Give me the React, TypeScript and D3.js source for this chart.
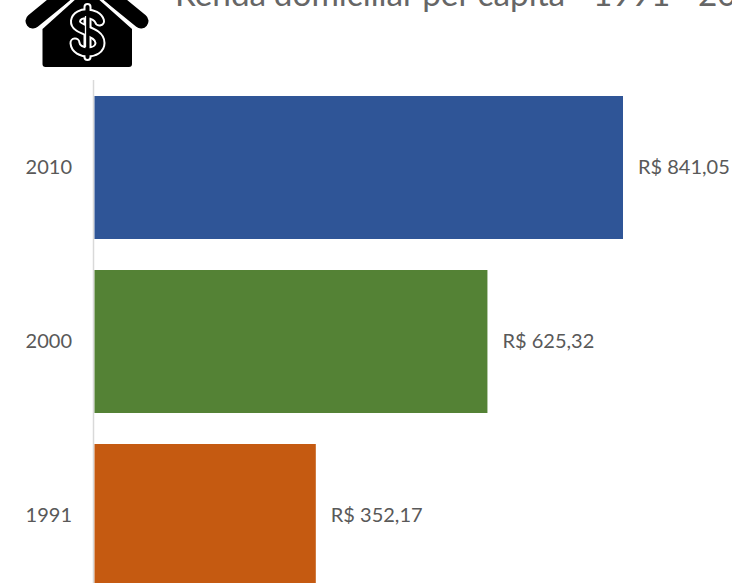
import React from "react";
import * as d3 from "d3";

const years = ["2010", "2000", "1991"];
const values = [841.05, 625.32, 352.17];
const labels = ["R$ 841,05", "R$ 625,32", "R$ 352,17"];
const colors = ["#2f5597", "#548235", "#c55a11"];
const title = "Renda domiciliar per capita - 1991 - 2010";

const FONT = "Lato, Carlito, Calibri, sans-serif";
const S_CURVE = "M99.500 21 C97 12 77 11 75.500 21 C74.500 31 100 30 100 43 C100 55 76 55 75 43";

export default function App() {
  const x = d3.scaleLinear().domain([0, 841.05]).range([94.5, 623]);
  const y = d3.scaleBand().domain(years).range([96, 587]).paddingInner(31 / 174).paddingOuter(0);
  return (
    <svg width={732} height={583} style={{ position: "fixed", left: 0, top: 0, background: "#fff" }} fontFamily={FONT}>
      <g>
        <path d="M33 21 L87 -23 L141 21" fill="none" stroke="#000" strokeWidth={15} strokeLinecap="round" strokeLinejoin="round" />
        <path d="M42.5 29 L87 -11 L132 29 L132 64 Q132 67 129 67 L45.500 67 Q42.500 67 42.500 64 Z" fill="#000" />
        <path d="M42.500 26.500 L87 -13.500 L131.500 26.500" fill="none" stroke="#fff" strokeWidth={2} />
        <path d={S_CURVE} fill="none" stroke="#fff" strokeWidth={11} strokeLinecap="round" />
        <path d="M87.500 7 V57" fill="none" stroke="#fff" strokeWidth={8} strokeLinecap="round" />
        <path d={S_CURVE} fill="none" stroke="#000" strokeWidth={7} strokeLinecap="round" />
        <path d="M87.500 7 V57" fill="none" stroke="#000" strokeWidth={4} strokeLinecap="round" />
        <path d="M85.500 16 V47" fill="none" stroke="#fff" strokeWidth={1.3} />
      </g>
      <text x={175} y={6} fontSize={33.300} fill="#666666" style={{ wordSpacing: "-0.8px" }}>{title}</text>
      <line x1={93.5} x2={93.5} y1={80} y2={583} stroke="#d9d9d9" strokeWidth={1.5} />
      {years.map((yr, i) => {
        const cy = y(yr)! + y.bandwidth() / 2;
        return (
          <g key={yr}>
            <rect x={x(0)} y={y(yr)} width={x(values[i]) - x(0)} height={y.bandwidth()} fill={colors[i]} />
            <text x={72} y={cy + 6.5} textAnchor="end" fontSize={20} fill="#595959">{yr}</text>
            <text x={x(values[i]) + 15} y={cy + 6.5} fontSize={20} fill="#595959">{labels[i]}</text>
          </g>
        );
      })}
    </svg>
  );
}
